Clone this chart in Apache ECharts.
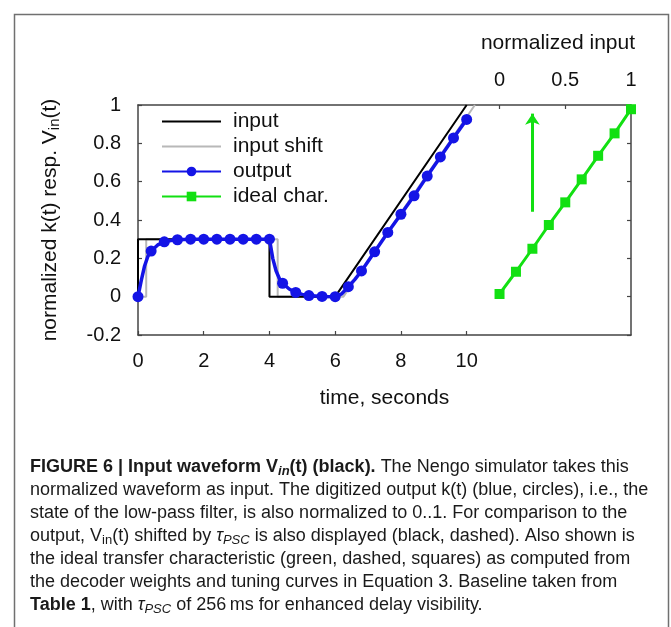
<!DOCTYPE html>
<html>
<head>
<meta charset="utf-8">
<script src="https://cdn.jsdelivr.net/npm/echarts@6/dist/echarts.min.js"></script>
<style>
  html, body { margin: 0; padding: 0; background: #fff; }
  #chart { width: 671px; height: 627px; }
</style>
</head>
<body>
<div id="chart"></div>
<script>
// ---- data ----
const timeTicks = [0, 2, 4, 6, 8, 10];
const valueTicks = [-0.2, 0, 0.2, 0.4, 0.6, 0.8, 1];
const inputTicks = [0, 0.5, 1];

const inputT = [0, 0, 4, 4, 6, 10];
const inputV = [0, 0.3, 0.3, 0, 0, 1];

const shiftT = [0, 0.25, 0.25, 4.25, 4.25, 6.25, 10.25];
const shiftV = [0, 0, 0.3, 0.3, 0, 0, 1];

const outputT = [0, 0.1, 0.2, 0.3, 0.4, 0.6, 0.8, 1.0, 1.2, 1.6, 2.0, 2.4, 2.8, 3.2, 3.6, 4.0,
                 4.1, 4.2, 4.3, 4.4, 4.6, 4.8, 5.0, 5.2, 5.6, 6.0, 6.2, 6.4, 6.6, 6.8, 7.2, 7.6,
                 8.0, 8.4, 8.8, 9.2, 9.6, 10.0];
const outputV = [0, 0.085, 0.16, 0.21, 0.238, 0.27, 0.286, 0.293, 0.297, 0.3, 0.3, 0.3, 0.3, 0.3, 0.3, 0.3,
                 0.2, 0.135, 0.095, 0.07, 0.04, 0.022, 0.012, 0.006, 0.001, 0.0, 0.015, 0.052, 0.09, 0.134, 0.234, 0.335,
                 0.43, 0.526, 0.629, 0.729, 0.828, 0.925];
const outputDotT = [0, 0.4, 0.8, 1.2, 1.6, 2.0, 2.4, 2.8, 3.2, 3.6, 4.0, 4.4, 4.8, 5.2, 5.6, 6.0,
                    6.4, 6.8, 7.2, 7.6, 8.0, 8.4, 8.8, 9.2, 9.6, 10.0];

const idealN = [0, 0.125, 0.25, 0.375, 0.5, 0.625, 0.75, 0.875, 1];
const idealV = [0.014, 0.13, 0.25, 0.374, 0.492, 0.612, 0.735, 0.852, 0.978];

const arrowN = 0.25;
const arrowFrom = 0.443;
const arrowTo = 0.955;

const legendNames = ['input', 'input shift', 'output', 'ideal char.'];
const legendNoMarker = ['input', 'input shift'];

const captionLines = [
  '{b|FIGURE 6 | Input waveform V}{bs|in}{b|(t) (black).} The Nengo simulator takes this',
  'normalized waveform as input. The digitized output k(t) (blue, circles), i.e., the',
  'state of the low-pass filter, is also normalized to 0..1. For comparison to the',
  'output, V{s|in}(t) shifted by {it|τ}{its|PSC} is also displayed (black, dashed). Also shown is',
  'the ideal transfer characteristic (green, dashed, squares) as computed from',
  'the decoder weights and tuning curves in Equation 3. Baseline taken from',
  '{b|Table 1}, with {it|τ}{its|PSC} of 256\u2009ms for enhanced delay visibility.'
];

// ---- build ----
const FONT = 'Liberation Sans, Arial, Helvetica, sans-serif';
const zip = (a, b) => a.map((v, i) => [v, b[i]]);
const dotSet = new Set(outputDotT.map(v => v.toFixed(2)));
const outputData = outputT.map((t, i) => {
  const item = { value: [t, outputV[i]] };
  if (!dotSet.has(t.toFixed(2))) item.symbol = 'none';
  return item;
});

const capColor = '#1a1a1a';
const capRich = {
  b: { fontWeight: 'bold', fontSize: 18, fontFamily: FONT, lineHeight: 22, color: capColor },
  bs: { fontWeight: 'bold', fontStyle: 'italic', fontSize: 13, fontFamily: FONT, lineHeight: 22, verticalAlign: 'bottom', color: capColor },
  s: { fontSize: 13, fontFamily: FONT, lineHeight: 22, verticalAlign: 'bottom', color: capColor },
  it: { fontStyle: 'italic', fontSize: 18, fontFamily: FONT, lineHeight: 22, color: capColor },
  its: { fontStyle: 'italic', fontSize: 13, fontFamily: FONT, lineHeight: 22, verticalAlign: 'bottom', color: capColor }
};

const captionGraphics = captionLines.map((line, i) => ({
  type: 'text',
  left: 30,
  top: 456 + i * 23,
  style: {
    text: line,
    rich: capRich,
    font: '18px ' + FONT,
    fill: capColor,
    lineHeight: 22
  }
}));

const legendData = legendNames.map(n =>
  legendNoMarker.includes(n) ? { name: n, itemStyle: { opacity: 0 } } : { name: n }
);

const axisLineStyle = { color: '#444', width: 1.5 };
const tickStyle = { color: '#444', width: 1.2 };
const labelStyle = { fontSize: 20, fontFamily: FONT, color: '#111' };

const chart = echarts.init(document.getElementById('chart'), null, { renderer: 'canvas' });
chart.setOption({
  animation: false,
  backgroundColor: '#fff',
  grid: { left: 138, right: 40, top: 105, bottom: 292, containLabel: false },
  title: {
    text: 'normalized input',
    right: 36, top: 33, padding: 0,
    textStyle: { fontSize: 21, fontWeight: 'normal', fontFamily: FONT, color: '#111' }
  },
  legend: {
    data: legendData,
    orient: 'vertical',
    left: 161, top: 111, padding: 0,
    itemWidth: 59, itemHeight: 12, itemGap: 4,
    textStyle: { fontSize: 21, fontFamily: FONT, color: '#111', lineHeight: 21, padding: [0, 0, 0, 7] },
    selectedMode: false
  },
  xAxis: [
    {
      type: 'value', position: 'bottom', min: 0, max: 15,
      name: 'time, seconds', nameLocation: 'middle', nameGap: 53,
      nameTextStyle: { fontSize: 21, fontFamily: FONT, color: '#111' },
      axisLine: { show: true, onZero: false, lineStyle: axisLineStyle },
      axisTick: { show: true, inside: true, length: 4, lineStyle: tickStyle, customValues: timeTicks },
      axisLabel: { margin: 16, customValues: timeTicks, ...labelStyle },
      splitLine: { show: false }
    },
    {
      type: 'value', position: 'top', min: -2.75, max: 1,
      axisLine: { show: true, onZero: false, lineStyle: axisLineStyle },
      axisTick: { show: true, inside: true, length: 4, lineStyle: tickStyle, customValues: inputTicks },
      axisLabel: { margin: 15, customValues: inputTicks, ...labelStyle },
      splitLine: { show: false }
    }
  ],
  yAxis: [
    {
      type: 'value', position: 'left', min: -0.2, max: 1, interval: 0.2,
      name: 'normalized k(t) resp. V{s|in}(t)', nameLocation: 'middle', nameGap: 76, nameRotate: 90,
      nameTextStyle: {
        fontSize: 21, fontFamily: FONT, color: '#111',
        rich: { s: { fontSize: 15, fontFamily: FONT, color: '#111', verticalAlign: 'bottom', lineHeight: 24 } }
      },
      axisLine: { show: true, onZero: false, lineStyle: axisLineStyle },
      axisTick: { show: true, inside: true, length: 4, lineStyle: tickStyle, customValues: valueTicks },
      axisLabel: { margin: 17, customValues: valueTicks, ...labelStyle },
      splitLine: { show: false }
    },
    {
      type: 'value', position: 'right', min: -0.2, max: 1, interval: 0.2,
      axisLine: { show: true, onZero: false, lineStyle: axisLineStyle },
      axisTick: { show: true, inside: true, length: 4, lineStyle: tickStyle, customValues: valueTicks },
      axisLabel: { show: false },
      splitLine: { show: false }
    }
  ],
  series: [
    {
      name: 'input shift', type: 'line', xAxisIndex: 0, yAxisIndex: 0,
      data: zip(shiftT, shiftV), symbol: 'none',
      lineStyle: { color: '#b8b8b8', width: 2 }, itemStyle: { color: '#b8b8b8' },
      emphasis: { disabled: true }, z: 2
    },
    {
      name: 'input', type: 'line', xAxisIndex: 0, yAxisIndex: 0,
      data: zip(inputT, inputV), symbol: 'none',
      lineStyle: { color: '#000', width: 2 }, itemStyle: { color: '#000' },
      emphasis: { disabled: true }, z: 3
    },
    {
      name: 'output', type: 'line', xAxisIndex: 0, yAxisIndex: 0,
      data: outputData, symbol: 'circle', symbolSize: 11, showAllSymbol: true,
      lineStyle: { color: '#1414e6', width: 3.5 }, itemStyle: { color: '#1414e6' },
      emphasis: { disabled: true }, z: 4
    },
    {
      name: 'ideal char.', type: 'line', xAxisIndex: 1, yAxisIndex: 0,
      data: zip(idealN, idealV), symbol: 'rect', symbolSize: 10, showAllSymbol: true,
      lineStyle: { color: '#12e012', width: 3 }, itemStyle: { color: '#12e012' },
      emphasis: { disabled: true }, z: 4,
      markLine: {
        silent: true, animation: false,
        symbol: ['none', 'arrow'], symbolSize: 11,
        label: { show: false },
        lineStyle: { color: '#12e012', width: 3, type: 'solid' },
        data: [[{ coord: [arrowN, arrowFrom] }, { coord: [arrowN, arrowTo] }]]
      }
    }
  ],
  graphic: [
    {
      type: 'rect', left: 12, top: 12, silent: true,
      shape: { width: 654, height: 640 },
      style: { fill: 'none', stroke: '#707070', lineWidth: 1.5 }
    },
    ...captionGraphics
  ]
});
</script>
</body>
</html>
